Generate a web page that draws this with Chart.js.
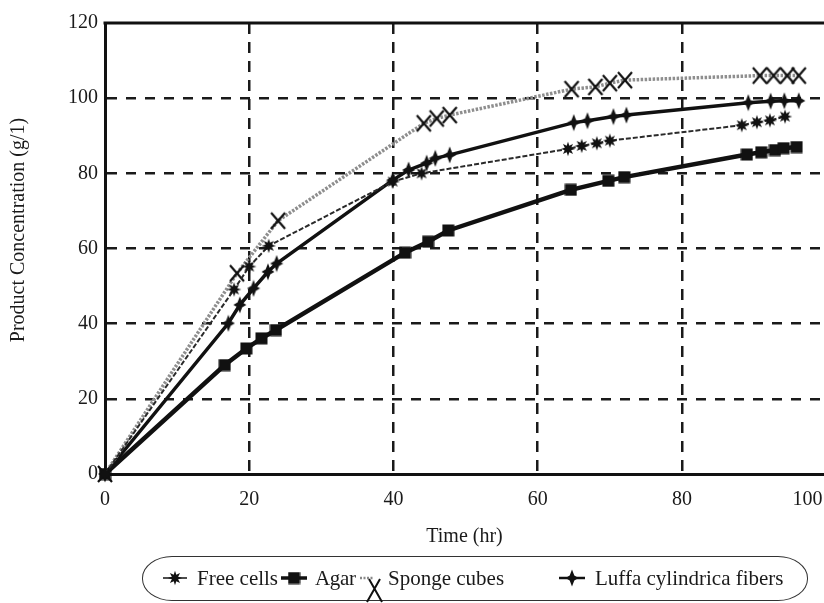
<!DOCTYPE html>
<html><head><meta charset="utf-8">
<script src="https://cdn.jsdelivr.net/npm/chart.js@4.4.0/dist/chart.umd.min.js"></script>
<style>
html,body{margin:0;padding:0;background:#fff;overflow:hidden;}
#wrap{position:relative;width:824px;height:603px;}
#c{position:absolute;left:0;top:0;}
#lgbox{position:absolute;left:142px;top:556px;width:666px;height:45px;border:1.3px solid #333;border-radius:30px/22px;box-sizing:border-box;}
.lt{position:absolute;top:566px;height:24px;line-height:24px;font-family:'Liberation Serif',serif;font-size:21px;color:#1a1a1a;white-space:nowrap;}
.li{position:absolute;}
</style></head>
<body>
<div id="wrap">
<canvas id="c" width="824" height="603"></canvas>
<div id="lgbox"></div>
<canvas class="li" id="i0" width="24" height="16" style="left:163px;top:570px"></canvas>
<span class="lt" style="left:197px">Free cells</span>
<canvas class="li" id="i1" width="26" height="16" style="left:281px;top:570px"></canvas>
<span class="lt" style="left:315px;letter-spacing:-0.3px">Agar</span>
<canvas class="li" id="i2" width="28" height="34" style="left:358px;top:570px"></canvas>
<span class="lt" style="left:388px">Sponge cubes</span>
<canvas class="li" id="i3" width="26" height="18" style="left:559px;top:569px"></canvas>
<span class="lt" style="left:595px">Luffa cylindrica fibers</span>
</div>
<script>
// ---- data ----
const seriesNames = ['Free cells', 'Agar', 'Sponge cubes', 'Luffa cylindrica fibers'];
const freeT   = [0,17.9,20,22.7,39.9,43.9,64.2,66.1,68.2,70,88.3,90.4,92.2,94.3];
const freeV   = [0,49.1,55.2,60.7,77.8,80,86.5,87.3,88,88.7,92.8,93.6,94.1,95.1];
const agarT   = [0,16.6,19.6,21.7,23.7,41.6,44.8,47.6,64.6,69.8,72,89,91,92.9,94.1,95.9];
const agarV   = [0,29,33.4,36.1,38.3,58.9,61.8,64.8,75.6,78,79,85,85.6,86.2,86.7,87];
const spongeT = [0,18.3,24,44.2,46,47.8,64.7,68,70,72.1,90.8,92.7,94.6,96.2];
const spongeV = [0,53.4,67.4,93.3,94.6,95.5,102.4,103,104,104.8,106,106,106,106];
const luffaT  = [0,17.1,18.7,20.6,22.6,23.8,39.9,42.1,44.6,45.8,47.8,65,66.9,70.5,72.3,89.2,92.3,94.2,96.2];
const luffaV  = [0,40.1,45,49.4,53.8,56,78.2,80.9,82.7,84,84.9,93.5,94,95.1,95.5,98.8,99.2,99.3,99.3];
const xTickLabels = ['0','20','40','60','80','100'];
const yTickLabels = ['0','20','40','60','80','100','120'];
const xTitle = 'Time (hr)';
const yTitle = 'Product Concentration (g/1)';

// ---- marker images ----
function mk(w,h,draw){const c=document.createElement('canvas');c.width=w;c.height=h;const g=c.getContext('2d');draw(g,w,h);return c;}
function starPath(g,cx,cy,n,ro,ri,rot){g.beginPath();for(let i=0;i<2*n;i++){const a=rot+i*Math.PI/n;const r=i%2?ri:ro;g.lineTo(cx+r*Math.cos(a),cy+r*Math.sin(a));}g.closePath();}
const starImg = mk(16,16,(g)=>{g.fillStyle='#111';starPath(g,8,8,8,7.2,3.4,-Math.PI/2);g.fill();});
const squareImg = mk(13,13,(g)=>{g.fillStyle='#111';g.fillRect(0.5,0.5,12,12);});
const crossImg = mk(18,20,(g)=>{g.strokeStyle='#111';g.lineWidth=2.2;g.beginPath();g.moveTo(2,2);g.lineTo(16,18);g.moveTo(16,2);g.lineTo(2,18);g.stroke();});
const luffaImg = mk(14,18,(g)=>{g.fillStyle='#111';g.beginPath();g.moveTo(7,0.5);g.lineTo(9.3,6.5);g.lineTo(13.5,9);g.lineTo(9.3,11.5);g.lineTo(7,17.5);g.lineTo(4.7,11.5);g.lineTo(0.5,9);g.lineTo(4.7,6.5);g.closePath();g.fill();});

// legend icons
(function(){
  let g=document.getElementById('i0').getContext('2d');
  g.strokeStyle='#222';g.lineWidth=1.6;g.beginPath();g.moveTo(0,8);g.lineTo(24,8);g.stroke();g.drawImage(starImg,4,0);
  g=document.getElementById('i1').getContext('2d');
  g.strokeStyle='#111';g.lineWidth=3.5;g.beginPath();g.moveTo(0,8);g.lineTo(26,8);g.stroke();g.drawImage(squareImg,6.5,1.5);
  g=document.getElementById('i2').getContext('2d');
  g.strokeStyle='#888';g.lineWidth=2.5;g.setLineDash([2,1.5]);g.beginPath();g.moveTo(2,8);g.lineTo(15,8);g.stroke();g.setLineDash([]);
  g.strokeStyle='#111';g.lineWidth=2;g.beginPath();g.moveTo(11,9);g.lineTo(24,32);g.moveTo(22,9);g.lineTo(9,32);g.stroke();
  g=document.getElementById('i3').getContext('2d');
  g.strokeStyle='#111';g.lineWidth=2.5;g.beginPath();g.moveTo(0,9);g.lineTo(26,9);g.stroke();g.drawImage(luffaImg,6,0);
})();

const pts=(T,V)=>T.map((t,i)=>({x:t,y:V[i]}));
const xMax = 99.7;          // plot is cropped at right edge
const lastLabelAt = 97.4;   // where the (cropped) "100" label sits

const frame = {
  id:'frame',
  beforeDatasetsDraw(chart){
    const {ctx,chartArea:a}=chart;
    ctx.save();ctx.strokeStyle='#111';ctx.lineWidth=3;ctx.beginPath();ctx.moveTo(a.left-1.5,a.top);ctx.lineTo(a.right,a.top);ctx.stroke();ctx.restore();
  },
  afterDraw(chart){
    const ctx=chart.ctx;ctx.save();ctx.translate(19,230);ctx.rotate(-Math.PI/2);
    ctx.font="20px 'Liberation Serif'";ctx.fillStyle='#1a1a1a';ctx.textAlign='center';ctx.textBaseline='middle';
    ctx.fillText(yTitle,0,0);ctx.restore();
  }
};

Chart.defaults.font.family="'Liberation Serif', serif";
Chart.defaults.color='#1a1a1a';

new Chart(document.getElementById('c'),{
  type:'line',
  data:{datasets:[
    {label:seriesNames[0],data:pts(freeT,freeV),borderColor:'#2a2a2a',borderWidth:2,borderDash:[5,2],pointStyle:starImg,pointRadius:7,tension:0,clip:false},
    {label:seriesNames[1],data:pts(agarT,agarV),borderColor:'#111',borderWidth:4.5,pointStyle:squareImg,pointRadius:7,tension:0,clip:false},
    {label:seriesNames[2],data:pts(spongeT,spongeV),borderColor:'#8e8e8e',borderWidth:3.5,borderDash:[2.5,1.5],pointStyle:crossImg,pointRadius:8,tension:0,clip:false},
    {label:seriesNames[3],data:pts(luffaT,luffaV),borderColor:'#111',borderWidth:3.5,pointStyle:luffaImg,pointRadius:7,tension:0,clip:false}
  ]},
  options:{
    responsive:false,animation:false,devicePixelRatio:1,
    layout:{autoPadding:false,padding:{left:0,right:0,top:23,bottom:54}},
    plugins:{legend:{display:false},tooltip:{enabled:false}},
    scales:{
      x:{type:'linear',min:0,max:xMax,
        afterFit(s){s.height=75;s.paddingLeft=0;s.paddingRight=0;},
        afterBuildTicks(s){s.ticks=xTickLabels.map((l,i)=>({value:i===xTickLabels.length-1?lastLabelAt:Number(l)}));},
        ticks:{autoSkip:false,maxRotation:0,padding:14,font:{size:20},color:'#1a1a1a',
          callback:(v,i)=>xTickLabels[i]},
        grid:{drawTicks:false,lineWidth:2.5,color:(c)=>(c.tick&&(c.tick.value===0||c.tick.value===lastLabelAt))?'rgba(0,0,0,0)':'#1a1a1a'},
        border:{display:true,color:'#111',width:3,dash:[11,8]},
        title:{display:true,text:xTitle,font:{size:20},color:'#1a1a1a',padding:0}
      },
      y:{min:0,max:120,
        afterFit(s){s.width=105;},
        afterBuildTicks(s){s.ticks=yTickLabels.map(l=>({value:Number(l)}));},
        ticks:{padding:7,font:{size:20},color:'#1a1a1a',callback:(v,i)=>yTickLabels[i]},
        grid:{drawTicks:false,lineWidth:2.5,color:(c)=>(c.tick&&(c.tick.value===0||c.tick.value===120))?'rgba(0,0,0,0)':'#1a1a1a'},
        border:{display:true,color:'#111',width:3,dash:[10,9]}
      }
    }
  },
  plugins:[frame]
});
</script>
</body></html>
